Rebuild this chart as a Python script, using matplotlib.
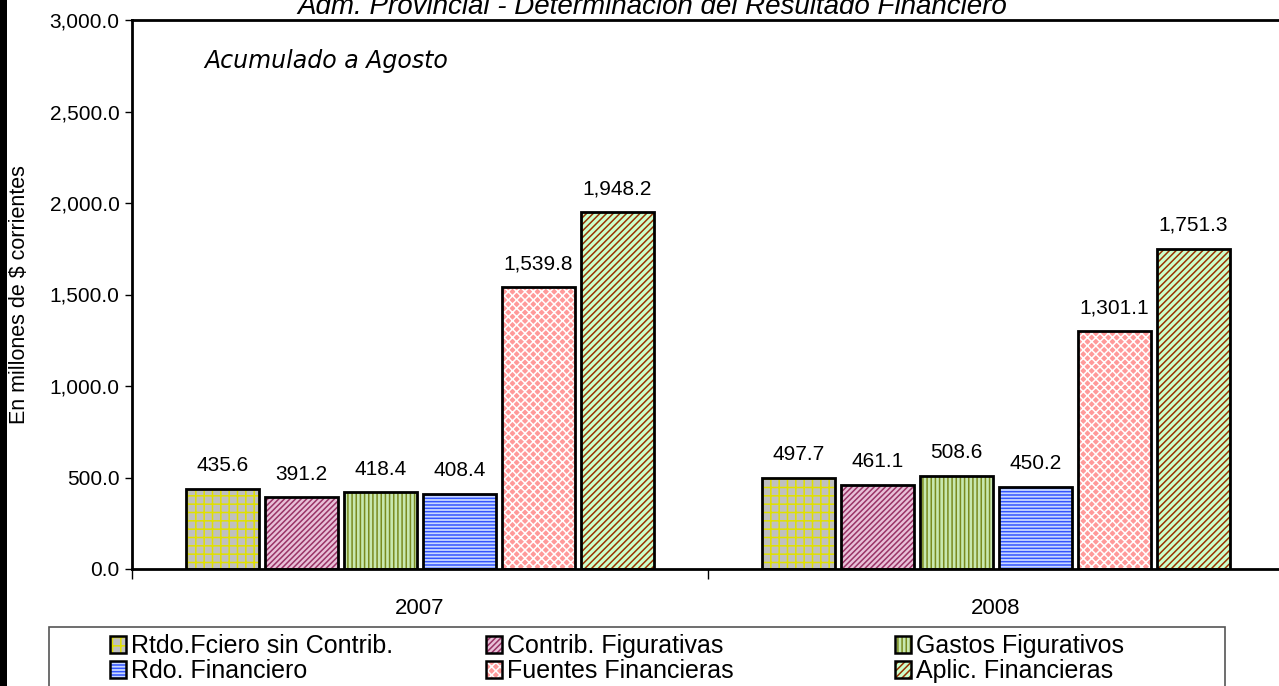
import numpy as np
import matplotlib
matplotlib.use("Agg")
import matplotlib.pyplot as plt
from matplotlib.patches import Patch, Rectangle
from matplotlib.ticker import FuncFormatter, FixedLocator

plt.rcParams['font.family'] = ['Liberation Sans', 'DejaVu Sans']
plt.rcParams['hatch.linewidth'] = 1.1

# datos
years = ['2007', '2008']
series = ['Rtdo.Fciero sin Contrib.', 'Contrib. Figurativas', 'Gastos Figurativos',
          'Rdo. Financiero', 'Fuentes Financieras', 'Aplic. Financieras']
rtdo_sin_contrib = [435.6, 497.7]
contrib_fig = [391.2, 461.1]
gastos_fig = [418.4, 508.6]
rdo_financiero = [408.4, 450.2]
fuentes_fin = [1539.8, 1301.1]
aplic_fin = [1948.2, 1751.3]
values = [rtdo_sin_contrib, contrib_fig, gastos_fig, rdo_financiero, fuentes_fin, aplic_fin]

# estilo de cada serie: (relleno, color del rayado, rayado)
styles = [
    ('#c0c0c0', '#e0e000', '++'),
    ('#e8c0d8', '#993366', '//////'),
    ('#c8e8b0', '#7a8a20', '||||'),
    ('#c8d8ff', '#3355ff', '-----'),
    ('#ff9a9a', '#ffffff', 'xxxx'),
    ('#ccffcc', '#993300', '/////'),
]

fig = plt.figure(figsize=(12.79, 6.86), dpi=100)
ax = fig.add_axes([132 / 1279, 117 / 686, 1152 / 1279, 549 / 686])

x = np.arange(len(years))
step = 0.137
width = 0.127
offsets = (np.arange(len(series)) - 2.5) * step

handles = []
for i, (name, vals) in enumerate(zip(series, values)):
    fc, hc, hatch = styles[i]
    pos = x + offsets[i]
    ax.bar(pos, vals, width, color=fc, edgecolor=hc, hatch=hatch, linewidth=0, zorder=2)
    ax.bar(pos, vals, width, facecolor='none', edgecolor='black', linewidth=2, zorder=3)
    for px, v in zip(pos, vals):
        ax.annotate(f'{v:,.1f}', (px, v), xytext=(0, 10), textcoords='offset points',
                    ha='center', va='bottom', fontsize=15)
    h1 = Patch(facecolor=fc, edgecolor=hc, hatch=hatch, linewidth=0)
    h2 = Patch(facecolor='none', edgecolor='black', linewidth=1.8)
    handles.append((h1, h2))

ax.set_xlim(-0.5, 1.5)
ax.set_ylim(0, 3000)
ax.set_yticks(np.arange(0, 3001, 500))
ax.yaxis.set_major_formatter(FuncFormatter(lambda v, p: f'{v:,.1f}'))
ax.set_xticks(x)
ax.set_xticklabels(years)
ax.xaxis.set_minor_locator(FixedLocator([-0.5, 0.5, 1.5]))
ax.tick_params(axis='x', which='major', length=0, pad=21, labelsize=16)
ax.tick_params(axis='x', which='minor', length=7, width=1, direction='out')
ax.tick_params(axis='y', length=5, width=1, direction='out', labelsize=15, pad=4)
for s in ax.spines.values():
    s.set_linewidth(2)
ax.set_ylabel('En millones de $ corrientes', fontsize=15.5, labelpad=14)

ax.text(0.063, 0.925, 'Acumulado a Agosto', transform=ax.transAxes, fontsize=17,
        style='italic', family='DejaVu Sans', va='center', ha='left')

fig.text(652 / 1279, 1 - 14 / 686, 'Adm. Provincial - Determinación del Resultado Financiero',
         ha='center', va='baseline', fontsize=20, style='italic')

# franja negra a la izquierda
fig.patches.append(Rectangle((0, 0), 7 / 1279, 1, transform=fig.transFigure,
                             facecolor='black', edgecolor='none', zorder=5))

# recuadro de la leyenda
fig.patches.append(Rectangle((49 / 1279, -0.01), (1225 - 49) / 1279, (686 - 627) / 686 + 0.01,
                             transform=fig.transFigure, facecolor='white',
                             edgecolor='#555555', linewidth=1.2, zorder=1))

col_x = [110, 486, 895]
for c in range(3):
    idx = [c, c + 3]
    leg = fig.legend([handles[k] for k in idx], [series[k] for k in idx],
                     loc='upper left', bbox_to_anchor=(col_x[c] / 1279, 1 - 634 / 686),
                     frameon=False, fontsize=18, handlelength=0.65, handleheight=0.65,
                     handletextpad=0.2, labelspacing=0.05, borderpad=0, borderaxespad=0)
    leg.set_zorder(6)

fig.savefig('out.png', dpi=100)
